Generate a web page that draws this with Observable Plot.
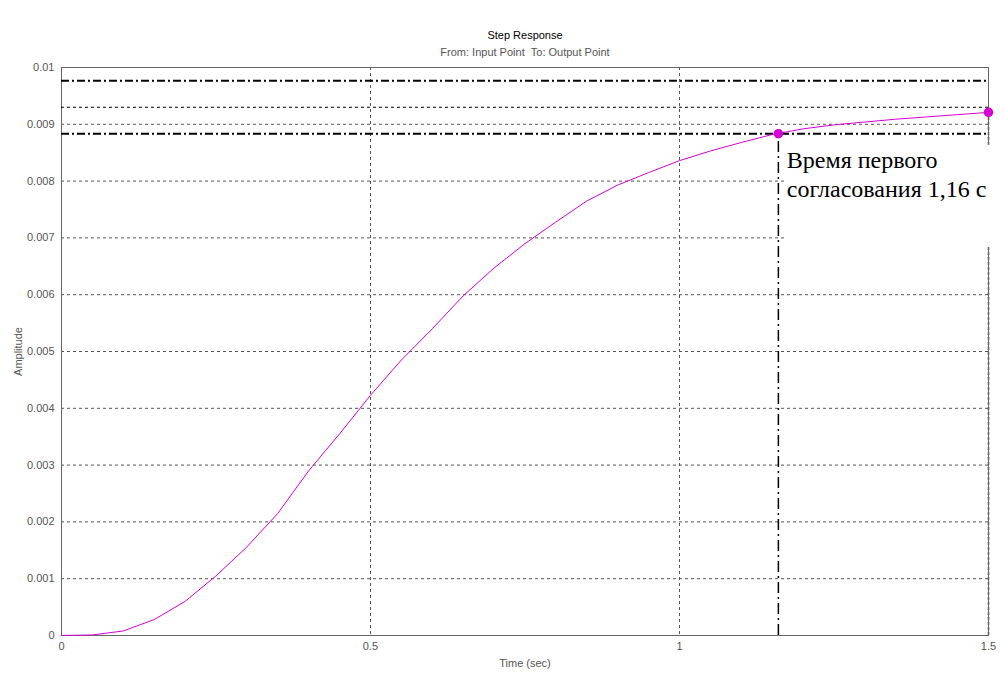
<!DOCTYPE html>
<html>
<head>
<meta charset="utf-8">
<script src="https://cdn.jsdelivr.net/npm/d3@7"></script>
<script src="https://cdn.jsdelivr.net/npm/@observablehq/plot@0.6"></script>
<style>
  body { margin: 0; background: #fff; }
  #chart svg { display: block; }
</style>
</head>
<body>
<div id="chart"></div>
<script>
// step response
const time = [0, 0.05, 0.1, 0.15, 0.2, 0.25, 0.3, 0.35, 0.4, 0.45, 0.5, 0.55, 0.6, 0.65, 0.7,
  0.75, 0.8, 0.85, 0.9, 0.95, 1.0, 1.05, 1.1, 1.15, 1.2, 1.25, 1.3, 1.35, 1.4, 1.45, 1.5]
const amplitude = [0, 0.00001, 0.00008, 0.00028, 0.0006, 0.00105, 0.00156, 0.00215, 0.0029, 0.00355,
  0.00423, 0.00485, 0.0054, 0.00598, 0.00647, 0.0069, 0.00728, 0.00765, 0.00793, 0.00815,
  0.00836, 0.00853, 0.00868, 0.00882, 0.00892, 0.00899, 0.00904, 0.00909, 0.00913, 0.00917, 0.00921]

const steadyState = 0.0093
const bandUpper = 0.009765   // +5 %
const bandLower = 0.008835   // -5 %
const settleTime = 1.16
const endTime = 1.5
const endValue = 0.00921

const yTicks = [0, 0.001, 0.002, 0.003, 0.004, 0.005, 0.006, 0.007, 0.008, 0.009, 0.01]
const xTicks = [0, 0.5, 1, 1.5]

// white label box (data units) and its text
const labelBox = {x1: 1.172, x2: 1.53, y1: 0.00683, y2: 0.00863}
const labelLines = ['Время первого', 'согласования 1,16 с']

const data = time.map((t, i) => ({t, y: amplitude[i]}))
const markers = [{t: settleTime, y: bandLower}, {t: endTime, y: endValue}]

const magenta = '#d600d6'
const grid = '#555'
const fmt = d => String(+d.toFixed(3))

let chart = Plot.plot({
  width: 1005,
  height: 676,
  marginLeft: 61,
  marginRight: 17,
  marginTop: 67,
  marginBottom: 41,
  style: {fontFamily: '"Liberation Sans", Arial, sans-serif', fontSize: '11px', background: '#fff'},
  x: {domain: [0, 1.5]},
  y: {domain: [0, 0.01]},
  marks: [
    Plot.gridX(xTicks.slice(1, -1), {stroke: grid, strokeOpacity: 1, strokeDasharray: '3,3'}),
    Plot.gridY(yTicks.slice(1, -1), {stroke: grid, strokeOpacity: 1, strokeDasharray: '3,3'}),
    Plot.ruleX([endTime], {y1: 0, y2: endValue, stroke: '#333', strokeDasharray: '3,2', strokeWidth: 1.5}),
    Plot.frame({stroke: '#666'}),
    Plot.ruleY([bandUpper, bandLower], {stroke: '#000', strokeWidth: 2, strokeDasharray: '8,3,2,3'}),
    Plot.ruleY([steadyState], {stroke: '#000', strokeDasharray: '3,3'}),
    Plot.rect([labelBox], {x1: 'x1', x2: 'x2', y1: 'y1', y2: 'y2', fill: '#fff', clip: false}),
    Plot.ruleX([settleTime], {y1: 0, y2: bandLower, stroke: '#000', strokeWidth: 1.5, strokeDasharray: '11,4,2,4'}),
    Plot.line(data, {x: 't', y: 'y', stroke: magenta, strokeWidth: 1}),
    Plot.dot(markers, {x: 't', y: 'y', r: 4, fill: magenta, stroke: magenta}),
    Plot.text([labelLines.join('\n')], {
      x: labelBox.x1, y: labelBox.y2, dx: 1, dy: 2,
      textAnchor: 'start', lineAnchor: 'top', lineHeight: 1.2,
      fontFamily: '"Liberation Serif", "Times New Roman", serif', fontSize: 24, fill: '#000'
    }),
    Plot.axisX(xTicks, {
      tickSize: 0, tickPadding: 7, fill: '#555', tickFormat: fmt, label: 'Time (sec)',
      labelAnchor: 'center', labelArrow: 'none', labelOffset: 31
    }),
    Plot.axisY(yTicks, {
      tickSize: 0, tickPadding: 7, fill: '#555', tickFormat: fmt,
      label: 'Amplitude', labelAnchor: 'center', labelArrow: 'none', labelOffset: 47
    }),
    Plot.text(['Step Response'], {frameAnchor: 'top', dy: -29, lineAnchor: 'bottom', fill: '#000', fontSize: 11}),
    Plot.text(['From: Input Point\u00a0\u00a0To: Output Point'], {frameAnchor: 'top', dy: -12, lineAnchor: 'bottom', fill: '#555', fontSize: 11})
  ]
})
d3.select('#chart').append(() => chart)
</script>
</body>
</html>
